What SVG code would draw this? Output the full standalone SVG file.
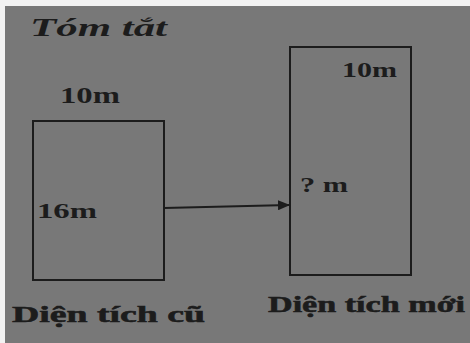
<svg xmlns="http://www.w3.org/2000/svg" width="470" height="343" viewBox="0 0 470 343">
<style>
.t{font-family:"Liberation Serif","DejaVu Serif",serif;font-weight:bold;fill:#1c1c1c}
.r{fill:none;stroke:#1c1c1c;stroke-width:2}
.c{stroke:#1c1c1c;stroke-width:2;fill:none}
</style>
<defs>
<marker id="ah" markerWidth="12" markerHeight="10" refX="11" refY="5" orient="auto" markerUnits="userSpaceOnUse">
<path d="M0,0 L12,5 L0,10 z" fill="#1c1c1c"/>
</marker>
</defs>
<rect width="470" height="343" fill="#f2f2f2"/>
<rect x="5" y="6" width="465" height="337" fill="#787878"/>
<text class="t" x="30" y="36" font-size="26" font-style="italic" textLength="137" lengthAdjust="spacingAndGlyphs">Tóm tắt</text>
<g id="old">
<rect class="r" x="33" y="121" width="131" height="159"/>
<text class="t" x="60" y="103" font-size="23" textLength="60" lengthAdjust="spacingAndGlyphs">10m</text>
<text class="t" x="37" y="218" font-size="22" textLength="60" lengthAdjust="spacingAndGlyphs">16m</text>
<text class="t" x="12" y="322" font-size="24" font-weight="normal" stroke="#1c1c1c" stroke-width="0.6" textLength="193" lengthAdjust="spacingAndGlyphs">Diện tích cũ</text>
</g>
<g id="new">
<rect class="r" x="290" y="47" width="121" height="228"/>
<text class="t" x="342" y="77" font-size="21" textLength="55" lengthAdjust="spacingAndGlyphs">10m</text>
<text class="t" x="300" y="192" font-size="20" textLength="48" lengthAdjust="spacingAndGlyphs">? m</text>
<text class="t" x="268" y="312" font-size="24" font-weight="normal" stroke="#1c1c1c" stroke-width="0.6" textLength="197" lengthAdjust="spacingAndGlyphs">Diện tích mới</text>
</g>
<g id="connectors">
<path class="c" d="M164,208 L289,205" marker-end="url(#ah)"/>
</g>
</svg>
